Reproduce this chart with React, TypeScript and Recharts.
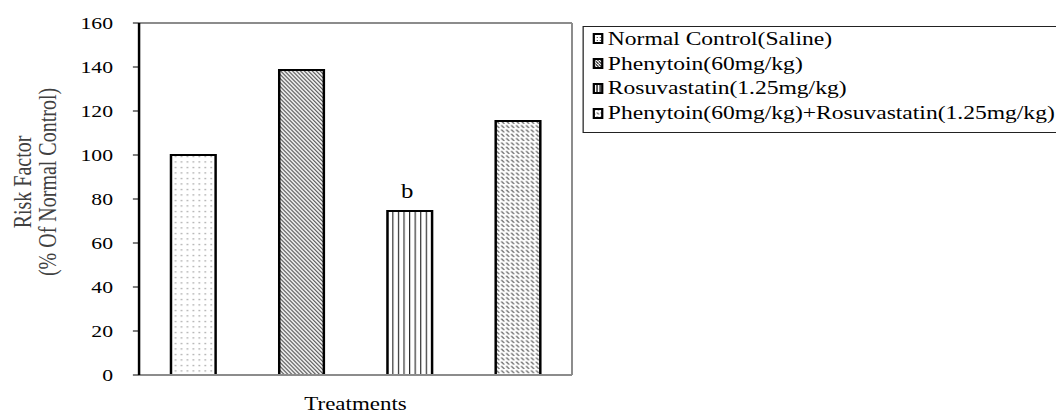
import React from 'react';
import { BarChart, Bar, XAxis, YAxis, Cell, LabelList, Label } from 'recharts';

const categories = ['Normal Control(Saline)', 'Phenytoin(60mg/kg)', 'Rosuvastatin(1.25mg/kg)', 'Phenytoin(60mg/kg)+Rosuvastatin(1.25mg/kg)'];
const values = [100, 138.6, 74.5, 115.5];
const sigLabels = ['', '', 'b', ''];
const yTicks = [0, 20, 40, 60, 80, 100, 120, 140, 160];
const patternIds = ['pDots', 'pDiag', 'pVert', 'pDash'];

const data = categories.map((name, i) => ({ name, value: values[i], sig: sigLabels[i] }));

const FONT = '"Liberation Serif", "Times New Roman", serif';
const SX = 1056 / 852;

const LegendIcon = ({ id }: { id: string }) => (
  <svg width={9} height={11} style={{ display: 'block' }}>
    <rect x={1} y={1} width={7} height={9} fill={`url(#${id}L)`} stroke="#000" strokeWidth={2} />
  </svg>
);

const LegendBox = () => (
  <div
    style={{
      position: 'absolute',
      left: 470.4,
      top: 25.5,
      border: '1px solid #222',
      width: 386,
      height: 107,
      boxSizing: 'border-box',
      paddingLeft: 7,
      fontFamily: FONT,
      fontSize: 19,
      color: '#000',
      background: '#fff',
    }}
  >
    {categories.map((c, i) => (
      <div key={c} style={{ display: 'flex', alignItems: 'center', height: 24.8, whiteSpace: 'nowrap', lineHeight: '20px' }}>
        <LegendIcon id={patternIds[i]} />
        <span style={{ marginLeft: 3 }}>{c}</span>
      </div>
    ))}
  </div>
);

const YLabel = (props: any) => {
  const { viewBox } = props;
  const cy = viewBox.y + viewBox.height / 2 - 17;
  return (
    <g fill="#404040" fontFamily={FONT} fontSize={20}>
      <text x={18.6} y={cy} transform={`rotate(-90 18.6 ${cy})`} textAnchor="middle" dominantBaseline="central">
        Risk Factor
      </text>
      <text x={38.7} y={cy} transform={`rotate(-90 38.7 ${cy})`} textAnchor="middle" dominantBaseline="central">
        (% Of Normal Control)
      </text>
    </g>
  );
};

const Patterns = () => (
  <defs>
    <pattern id="pDots" width={4.8} height={5.5} patternUnits="userSpaceOnUse">
      <rect width={4.8} height={5.5} fill="#fff" />
      <rect x={2} y={2} width={0.9} height={1} fill="#555" />
    </pattern>
    <pattern id="pDiag" width={3.2} height={4} patternUnits="userSpaceOnUse">
      <rect width={3.2} height={4} fill="#fff" />
      <path d="M-0.8,-1 L4,5 M-0.8,3 L0.8,5 M2.4,-1 L4,1" stroke="#333" strokeWidth={0.9} />
    </pattern>
    <pattern id="pVert" width={4.5} height={10} patternUnits="userSpaceOnUse">
      <rect width={4.5} height={10} fill="#fff" />
      <line x1={2} y1={0} x2={2} y2={10} stroke="#111" strokeWidth={0.85} />
    </pattern>
    <pattern id="pDash" width={4} height={4.3} patternUnits="userSpaceOnUse">
      <rect width={4} height={4.3} fill="#fff" />
      <path d="M0.4,0.5 L2.8,3.3" stroke="#444" strokeWidth={0.9} />
    </pattern>
    <pattern id="pDotsL" width={2.5} height={3} patternUnits="userSpaceOnUse">
      <rect width={2.5} height={3} fill="#fff" />
      <rect x={1} y={1} width={0.8} height={1} fill="#444" />
    </pattern>
    <pattern id="pDiagL" width={2.5} height={3} patternUnits="userSpaceOnUse">
      <rect width={2.5} height={3} fill="#fff" />
      <path d="M-0.8,-1 L3.3,4" stroke="#222" strokeWidth={1} />
    </pattern>
    <pattern id="pVertL" width={2.5} height={10} patternUnits="userSpaceOnUse">
      <rect width={2.5} height={10} fill="#fff" />
      <line x1={1.2} y1={0} x2={1.2} y2={10} stroke="#111" strokeWidth={1} />
    </pattern>
    <pattern id="pDashL" width={3.2} height={4} patternUnits="userSpaceOnUse">
      <rect width={3.2} height={4} fill="#fff" />
      <path d="M0.4,0.5 L2,2.5" stroke="#444" strokeWidth={1} />
    </pattern>
  </defs>
);

export default function App() {
  return (
    <div style={{ position: 'absolute', left: 0, top: 0, width: 1056, height: 415, background: '#fff', overflow: 'hidden' }}>
      <div
        style={{
          position: 'absolute',
          left: 0,
          top: 0,
          width: 852,
          height: 415,
          transform: `scaleX(${SX})`,
          transformOrigin: '0 0',
        }}
      >
        <svg width={0} height={0} style={{ position: 'absolute' }}>
          <Patterns />
        </svg>
        <BarChart
          width={852}
          height={415}
          data={data}
          margin={{ top: 22, right: 389.5, bottom: 0, left: 0 }}
          barCategoryGap="29.5%"
        >
          <XAxis
            dataKey="name"
            tick={false}
            tickLine={false}
            axisLine={{ stroke: '#8c8c8c', strokeWidth: 2 }}
            height={40}
          >
            <Label
              value="Treatments"
              position="insideBottom"
              offset={5}
              style={{ fontFamily: FONT, fontSize: 18.5, fill: '#000' }}
            />
          </XAxis>
          <XAxis
            xAxisId="top"
            orientation="top"
            dataKey="name"
            tick={false}
            tickLine={false}
            height={1}
            axisLine={{ stroke: '#8c8c8c', strokeWidth: 2 }}
          />
          <YAxis
            domain={[0, 160]}
            ticks={yTicks}
            interval={0}
            width={112.2}
            axisLine={{ stroke: '#000', strokeWidth: 2 }}
            tickLine={{ stroke: '#000', strokeWidth: 1 }}
            tickSize={5}
            tickMargin={16}
            tick={{ fontFamily: FONT, fontSize: 17.5, fill: '#000' }}
          >
            <Label content={<YLabel />} />
          </YAxis>
          <YAxis
            yAxisId="right"
            orientation="right"
            domain={[0, 160]}
            width={1}
            tick={false}
            tickLine={false}
            axisLine={{ stroke: '#8c8c8c', strokeWidth: 1.6 }}
          />
          <Bar dataKey="value" isAnimationActive={false} stroke="#000" strokeWidth={2}>
            {data.map((d, i) => (
              <Cell key={d.name} fill={`url(#${patternIds[i]})`} />
            ))}
            <LabelList
              dataKey="sig"
              position="top"
              offset={13}
              dx={-2}
              style={{ fontFamily: FONT, fontSize: 20, fill: '#000' }}
            />
          </Bar>
          <Bar
            xAxisId="top"
            yAxisId="right"
            dataKey="value"
            isAnimationActive={false}
            fill="none"
            stroke="none"
            legendType="none"
          />
        </BarChart>
        <LegendBox />
      </div>
    </div>
  );
}
